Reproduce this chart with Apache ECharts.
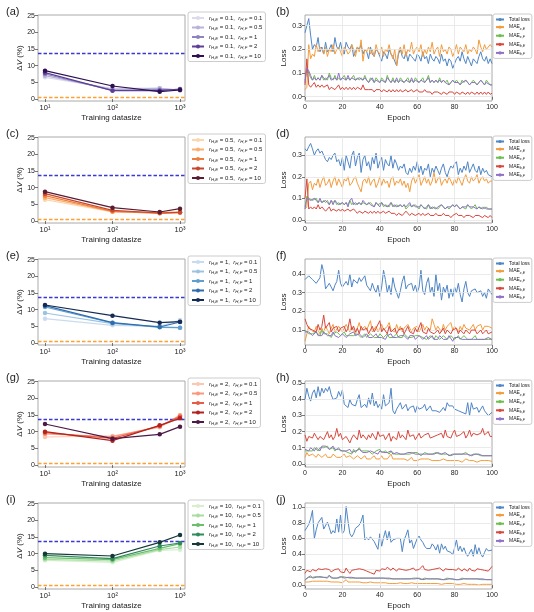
<!DOCTYPE html>
<html><head><meta charset="utf-8">
<script src="https://cdn.jsdelivr.net/npm/echarts@6/dist/echarts.min.js"></script>
<style>html,body{margin:0;padding:0;background:#fff}#c{width:534px;height:612px}</style>
</head><body><div id="c"></div>
<script>
// ---------- DATA ----------
const dataSizes = [10, 100, 500, 1000];
const rHF = ['0.1', '0.5', '1', '2', '10'];
const xTickValues = [10, 100, 1000];
const refHigh = 13.7;
const refLow = 0.6;
// ΔV(%) per r_H,F (rows: 0.1,0.5,1,2,10), columns: datasizes
const dvA = [[6.5,3.2,3.3,2.5],[7.0,2.9,3.2,2.7],[7.5,2.6,2.8,2.8],[7.9,2.5,2.5,3.0],[8.5,3.9,2.2,2.7]];
const dvC = [[6.4,2.7,2.6,2.8],[7.0,2.8,2.5,2.6],[7.6,2.9,2.3,2.5],[8.2,3.2,2.4,2.6],[8.8,4.0,2.7,3.7]];
const dvE = [[7.3,5.3,5.0,6.9],[9.0,5.8,4.9,4.6],[10.8,6.0,4.7,4.6],[11.2,6.1,4.8,6.3],[11.4,8.2,6.1,6.4]];
const dvG = [[8.4,8.7,11.3,14.5],[9.3,8.5,11.5,14.9],[9.7,8.0,11.7,14.5],[10.0,7.3,11.9,14.0],[12.3,7.9,9.2,11.5]];
const dvI = [[8.0,7.4,11.0,11.2],[8.3,7.8,11.2,12.0],[8.8,8.2,11.6,13.0],[9.5,8.5,12.3,13.2],[10.0,9.3,13.4,15.6]];

const lossNames = ['Total loss','MAE_xE','MAE_xF','MAE_bE','MAE_bF'];

const lossB_total=[0.27,0.30,0.33,0.26,0.20,0.22,0.21,0.25,0.19,0.21,0.18,0.23,0.19,0.20,0.22,0.19,0.25,0.21,0.20,0.23,0.19,0.18,0.23,0.21,0.20,0.22,0.17,0.19,0.21,0.20,0.22,0.18,0.20,0.19,0.16,0.21,0.18,0.17,0.20,0.19,0.17,0.15,0.19,0.18,0.16,0.20,0.18,0.17,0.15,0.13,0.18,0.20,0.17,0.16,0.19,0.15,0.18,0.17,0.16,0.15,0.18,0.17,0.15,0.19,0.16,0.17,0.14,0.18,0.16,0.15,0.17,0.16,0.14,0.18,0.15,0.16,0.13,0.16,0.15,0.12,0.14,0.16,0.17,0.15,0.19,0.16,0.14,0.17,0.15,0.13,0.16,0.15,0.14,0.17,0.19,0.16,0.15,0.17,0.14,0.16,0.14];
const lossB_xE=[0.03,0.04,0.22,0.16,0.18,0.17,0.22,0.19,0.21,0.20,0.18,0.21,0.17,0.20,0.19,0.22,0.18,0.20,0.21,0.19,0.17,0.21,0.20,0.18,0.19,0.22,0.20,0.17,0.21,0.19,0.24,0.15,0.20,0.19,0.21,0.18,0.20,0.17,0.22,0.19,0.18,0.21,0.17,0.20,0.19,0.22,0.18,0.16,0.20,0.13,0.19,0.21,0.18,0.22,0.17,0.20,0.19,0.23,0.18,0.20,0.21,0.19,0.22,0.17,0.20,0.18,0.21,0.19,0.23,0.18,0.20,0.21,0.17,0.22,0.19,0.20,0.18,0.21,0.20,0.17,0.19,0.22,0.18,0.21,0.20,0.19,0.22,0.18,0.20,0.19,0.21,0.20,0.18,0.24,0.21,0.19,0.22,0.20,0.21,0.22,0.21];
const lossB_xF=[0.07,0.12,0.10,0.08,0.07,0.09,0.07,0.08,0.07,0.09,0.07,0.08,0.07,0.10,0.08,0.07,0.09,0.07,0.08,0.07,0.08,0.09,0.07,0.08,0.07,0.08,0.09,0.07,0.08,0.07,0.08,0.07,0.09,0.07,0.06,0.08,0.07,0.06,0.08,0.07,0.06,0.08,0.07,0.06,0.09,0.07,0.06,0.08,0.06,0.07,0.06,0.08,0.07,0.06,0.07,0.08,0.06,0.07,0.06,0.08,0.07,0.06,0.07,0.08,0.06,0.07,0.09,0.06,0.07,0.06,0.07,0.06,0.08,0.06,0.07,0.06,0.07,0.05,0.06,0.07,0.06,0.07,0.06,0.05,0.07,0.06,0.07,0.06,0.05,0.06,0.07,0.06,0.05,0.06,0.07,0.06,0.05,0.07,0.06,0.05,0.05];
const lossB_bE=[0.05,0.16,0.05,0.04,0.05,0.06,0.04,0.05,0.04,0.05,0.04,0.04,0.05,0.03,0.04,0.04,0.03,0.04,0.05,0.03,0.04,0.03,0.04,0.03,0.04,0.03,0.04,0.03,0.04,0.04,0.03,0.05,0.03,0.03,0.03,0.03,0.03,0.02,0.03,0.03,0.03,0.02,0.03,0.03,0.02,0.03,0.02,0.03,0.02,0.03,0.02,0.03,0.02,0.02,0.03,0.02,0.02,0.03,0.02,0.02,0.03,0.02,0.02,0.02,0.03,0.02,0.02,0.02,0.01,0.02,0.02,0.02,0.02,0.01,0.02,0.02,0.01,0.02,0.02,0.02,0.01,0.02,0.02,0.01,0.02,0.02,0.01,0.02,0.01,0.02,0.02,0.01,0.02,0.01,0.02,0.01,0.02,0.01,0.02,0.01,0.015];
const lossB_bF=[0.06,0.12,0.11,0.09,0.07,0.08,0.07,0.08,0.07,0.09,0.08,0.07,0.08,0.09,0.07,0.07,0.08,0.07,0.10,0.07,0.08,0.08,0.07,0.09,0.07,0.08,0.08,0.07,0.07,0.08,0.08,0.07,0.08,0.07,0.06,0.07,0.08,0.06,0.07,0.07,0.06,0.07,0.07,0.06,0.08,0.07,0.06,0.07,0.06,0.08,0.06,0.07,0.07,0.06,0.07,0.07,0.06,0.08,0.06,0.07,0.07,0.06,0.07,0.07,0.06,0.07,0.08,0.06,0.07,0.06,0.07,0.06,0.07,0.06,0.07,0.06,0.06,0.05,0.06,0.07,0.06,0.06,0.06,0.05,0.06,0.06,0.07,0.06,0.05,0.06,0.06,0.06,0.05,0.06,0.07,0.07,0.05,0.06,0.06,0.05,0.05];

const lossD_total=[0.33,0.32,0.34,0.355,0.33,0.30,0.32,0.33,0.31,0.32,0.30,0.28,0.27,0.29,0.28,0.30,0.31,0.27,0.28,0.25,0.29,0.23,0.30,0.27,0.24,0.30,0.32,0.25,0.29,0.31,0.22,0.28,0.30,0.25,0.27,0.23,0.29,0.26,0.31,0.24,0.27,0.29,0.23,0.28,0.26,0.25,0.30,0.24,0.28,0.26,0.23,0.25,0.24,0.26,0.22,0.21,0.24,0.22,0.25,0.23,0.27,0.22,0.25,0.21,0.24,0.23,0.26,0.20,0.24,0.22,0.25,0.23,0.21,0.24,0.26,0.22,0.20,0.23,0.25,0.24,0.26,0.27,0.21,0.24,0.22,0.25,0.23,0.27,0.22,0.24,0.26,0.23,0.22,0.25,0.21,0.24,0.22,0.23,0.21,0.21,0.20];
const lossD_xE=[0.05,0.06,0.17,0.18,0.14,0.17,0.16,0.19,0.15,0.18,0.20,0.16,0.17,0.19,0.15,0.18,0.20,0.16,0.19,0.17,0.15,0.19,0.18,0.20,0.16,0.17,0.19,0.20,0.17,0.15,0.13,0.18,0.19,0.17,0.20,0.16,0.18,0.19,0.15,0.17,0.20,0.16,0.19,0.17,0.18,0.15,0.19,0.20,0.16,0.18,0.17,0.19,0.16,0.18,0.15,0.17,0.13,0.18,0.20,0.17,0.19,0.21,0.16,0.18,0.20,0.17,0.19,0.16,0.18,0.22,0.17,0.19,0.20,0.16,0.18,0.19,0.17,0.20,0.18,0.16,0.19,0.17,0.20,0.18,0.16,0.19,0.21,0.18,0.17,0.20,0.18,0.19,0.21,0.17,0.19,0.20,0.18,0.19,0.17,0.18,0.18];
const lossD_xF=[0.06,0.11,0.10,0.10,0.09,0.09,0.10,0.08,0.09,0.08,0.09,0.08,0.09,0.07,0.09,0.08,0.09,0.07,0.08,0.07,0.08,0.07,0.08,0.07,0.09,0.07,0.08,0.07,0.07,0.08,0.07,0.08,0.08,0.07,0.07,0.08,0.07,0.06,0.08,0.07,0.07,0.08,0.06,0.07,0.07,0.06,0.08,0.07,0.06,0.07,0.06,0.07,0.06,0.07,0.05,0.06,0.07,0.06,0.06,0.07,0.06,0.05,0.07,0.06,0.06,0.05,0.07,0.06,0.05,0.06,0.06,0.05,0.06,0.07,0.06,0.05,0.06,0.05,0.06,0.07,0.06,0.07,0.06,0.05,0.06,0.06,0.05,0.07,0.06,0.05,0.06,0.07,0.05,0.06,0.05,0.06,0.05,0.06,0.05,0.05,0.05];
const lossD_bE=[0.10,0.19,0.05,0.06,0.05,0.06,0.05,0.07,0.05,0.06,0.05,0.04,0.05,0.06,0.04,0.05,0.05,0.04,0.05,0.04,0.05,0.04,0.04,0.05,0.04,0.04,0.05,0.04,0.03,0.04,0.04,0.03,0.04,0.04,0.03,0.04,0.03,0.04,0.03,0.04,0.03,0.03,0.04,0.03,0.03,0.04,0.03,0.03,0.03,0.02,0.03,0.03,0.02,0.03,0.04,0.03,0.02,0.03,0.03,0.02,0.02,0.03,0.02,0.03,0.02,0.02,0.03,0.02,0.02,0.02,0.03,0.02,0.02,0.02,0.03,0.02,0.02,0.02,0.01,0.02,0.02,0.03,0.02,0.02,0.02,0.01,0.02,0.02,0.02,0.02,0.01,0.02,0.02,0.02,0.02,0.01,0.02,0.02,0.01,0.02,0.01];
const lossD_bF=[0.05,0.10,0.10,0.09,0.09,0.10,0.09,0.08,0.10,0.08,0.08,0.09,0.08,0.07,0.09,0.07,0.09,0.08,0.07,0.07,0.08,0.07,0.08,0.06,0.09,0.10,0.07,0.08,0.07,0.08,0.07,0.09,0.08,0.07,0.08,0.07,0.07,0.06,0.08,0.07,0.06,0.08,0.07,0.07,0.06,0.07,0.08,0.06,0.07,0.06,0.06,0.07,0.06,0.07,0.06,0.06,0.08,0.06,0.07,0.06,0.06,0.06,0.07,0.06,0.05,0.06,0.07,0.05,0.06,0.06,0.05,0.06,0.06,0.07,0.06,0.05,0.06,0.06,0.06,0.07,0.06,0.07,0.06,0.05,0.06,0.06,0.06,0.07,0.06,0.06,0.06,0.06,0.05,0.06,0.06,0.05,0.06,0.05,0.05,0.05,0.05];

const lossF_total=[0.37,0.38,0.39,0.40,0.37,0.36,0.35,0.36,0.38,0.45,0.41,0.32,0.33,0.35,0.33,0.31,0.34,0.36,0.42,0.35,0.33,0.32,0.36,0.34,0.40,0.33,0.37,0.36,0.35,0.38,0.36,0.35,0.39,0.34,0.33,0.31,0.35,0.32,0.30,0.34,0.28,0.33,0.42,0.37,0.30,0.34,0.29,0.38,0.33,0.30,0.27,0.31,0.36,0.39,0.32,0.34,0.33,0.35,0.31,0.34,0.30,0.33,0.42,0.31,0.29,0.35,0.38,0.30,0.33,0.28,0.40,0.31,0.35,0.26,0.33,0.30,0.34,0.27,0.32,0.28,0.33,0.30,0.35,0.29,0.25,0.32,0.36,0.30,0.28,0.31,0.30,0.32,0.30,0.29,0.31,0.28,0.30,0.27,0.32,0.31,0.29];
const lossF_xE=[0.04,0.08,0.12,0.10,0.11,0.09,0.12,0.10,0.08,0.11,0.09,0.12,0.10,0.08,0.11,0.13,0.09,0.10,0.12,0.11,0.09,0.10,0.13,0.11,0.09,0.12,0.10,0.08,0.11,0.14,0.10,0.09,0.12,0.10,0.11,0.15,0.09,0.10,0.12,0.09,0.11,0.13,0.10,0.09,0.12,0.14,0.10,0.11,0.09,0.13,0.10,0.12,0.09,0.11,0.10,0.13,0.12,0.09,0.11,0.10,0.12,0.09,0.11,0.13,0.10,0.12,0.11,0.10,0.16,0.13,0.10,0.12,0.11,0.09,0.13,0.10,0.12,0.11,0.14,0.10,0.12,0.11,0.09,0.12,0.10,0.13,0.11,0.12,0.10,0.11,0.13,0.10,0.12,0.11,0.13,0.10,0.12,0.11,0.12,0.11,0.11];
const lossF_xF=[0.10,0.09,0.08,0.09,0.08,0.07,0.09,0.08,0.07,0.10,0.08,0.07,0.08,0.07,0.06,0.08,0.07,0.09,0.08,0.07,0.08,0.09,0.07,0.08,0.07,0.08,0.07,0.06,0.08,0.07,0.06,0.07,0.08,0.06,0.07,0.08,0.07,0.06,0.07,0.06,0.08,0.07,0.06,0.07,0.08,0.06,0.07,0.06,0.07,0.08,0.06,0.07,0.06,0.08,0.07,0.06,0.07,0.06,0.05,0.07,0.06,0.07,0.08,0.06,0.07,0.05,0.06,0.07,0.06,0.05,0.07,0.06,0.05,0.06,0.07,0.06,0.05,0.06,0.07,0.06,0.05,0.06,0.07,0.05,0.06,0.07,0.06,0.05,0.06,0.05,0.06,0.07,0.05,0.06,0.05,0.06,0.05,0.06,0.05,0.05,0.05];
const lossF_bE=[0.16,0.13,0.11,0.12,0.10,0.11,0.09,0.13,0.10,0.12,0.18,0.11,0.10,0.14,0.09,0.11,0.10,0.12,0.09,0.11,0.10,0.12,0.09,0.11,0.16,0.10,0.12,0.09,0.11,0.08,0.12,0.10,0.09,0.11,0.08,0.10,0.12,0.09,0.11,0.10,0.15,0.09,0.11,0.10,0.08,0.12,0.09,0.10,0.11,0.08,0.10,0.09,0.11,0.08,0.10,0.12,0.09,0.10,0.08,0.11,0.09,0.10,0.14,0.09,0.10,0.08,0.11,0.09,0.10,0.08,0.09,0.10,0.08,0.09,0.11,0.08,0.10,0.09,0.08,0.10,0.09,0.11,0.08,0.10,0.09,0.08,0.10,0.09,0.08,0.10,0.09,0.10,0.08,0.09,0.10,0.08,0.09,0.10,0.08,0.09,0.09];
const lossF_bF=[0.09,0.10,0.09,0.08,0.07,0.08,0.09,0.07,0.08,0.07,0.09,0.08,0.07,0.08,0.07,0.09,0.07,0.08,0.06,0.07,0.08,0.07,0.06,0.07,0.08,0.07,0.09,0.07,0.06,0.08,0.07,0.06,0.07,0.08,0.06,0.07,0.06,0.07,0.08,0.06,0.07,0.06,0.07,0.05,0.07,0.06,0.08,0.06,0.07,0.06,0.05,0.07,0.06,0.07,0.06,0.05,0.07,0.06,0.07,0.05,0.06,0.07,0.06,0.05,0.06,0.07,0.05,0.06,0.07,0.05,0.06,0.05,0.07,0.06,0.05,0.06,0.05,0.07,0.06,0.04,0.06,0.05,0.06,0.07,0.05,0.06,0.05,0.06,0.05,0.06,0.05,0.06,0.05,0.06,0.05,0.06,0.05,0.04,0.06,0.05,0.05];

const lossH_total=[0.40,0.47,0.42,0.39,0.44,0.46,0.41,0.48,0.42,0.47,0.44,0.47,0.45,0.48,0.43,0.40,0.39,0.41,0.45,0.42,0.46,0.37,0.38,0.35,0.40,0.37,0.38,0.36,0.40,0.43,0.35,0.36,0.37,0.35,0.41,0.37,0.44,0.36,0.39,0.35,0.37,0.34,0.43,0.36,0.35,0.38,0.47,0.33,0.31,0.34,0.33,0.38,0.34,0.35,0.37,0.33,0.35,0.34,0.36,0.32,0.36,0.34,0.33,0.35,0.37,0.33,0.34,0.36,0.33,0.32,0.33,0.34,0.32,0.33,0.35,0.33,0.38,0.36,0.35,0.36,0.34,0.35,0.33,0.34,0.32,0.33,0.31,0.38,0.30,0.38,0.34,0.33,0.35,0.32,0.34,0.36,0.33,0.32,0.30,0.30,0.32];
const lossH_xE=[0.04,0.07,0.05,0.04,0.06,0.05,0.04,0.06,0.05,0.04,0.05,0.06,0.04,0.05,0.04,0.06,0.05,0.04,0.05,0.04,0.05,0.06,0.04,0.03,0.05,0.04,0.03,0.04,0.05,0.04,0.03,0.04,0.05,0.03,0.04,0.03,0.04,0.05,0.03,0.04,0.03,0.05,0.03,0.04,0.03,0.04,0.06,0.03,0.02,0.03,0.04,0.03,0.02,0.03,0.03,0.02,0.03,0.04,0.02,0.03,0.02,0.03,0.03,0.02,0.03,0.02,0.03,0.02,0.02,0.03,0.02,0.03,0.02,0.02,0.03,0.02,0.02,0.03,0.02,0.02,0.02,0.03,0.02,0.02,0.01,0.02,0.03,0.02,0.02,0.01,0.02,0.02,0.01,0.02,0.02,0.01,0.02,0.01,0.02,0.01,0.015];
const lossH_xF=[0.08,0.07,0.08,0.09,0.08,0.10,0.09,0.08,0.10,0.09,0.10,0.09,0.11,0.09,0.08,0.10,0.08,0.07,0.10,0.08,0.09,0.08,0.09,0.07,0.08,0.06,0.09,0.07,0.08,0.10,0.08,0.07,0.08,0.07,0.08,0.07,0.06,0.07,0.08,0.07,0.09,0.07,0.06,0.08,0.07,0.06,0.08,0.07,0.06,0.07,0.06,0.07,0.06,0.07,0.06,0.07,0.06,0.06,0.07,0.06,0.07,0.06,0.05,0.06,0.07,0.06,0.06,0.07,0.06,0.06,0.07,0.06,0.06,0.05,0.06,0.07,0.06,0.06,0.05,0.06,0.06,0.07,0.06,0.05,0.06,0.06,0.07,0.06,0.05,0.06,0.06,0.05,0.06,0.06,0.05,0.06,0.05,0.06,0.05,0.05,0.05];
const lossH_bE=[0.18,0.14,0.17,0.18,0.16,0.19,0.17,0.15,0.17,0.16,0.15,0.16,0.20,0.16,0.18,0.15,0.17,0.22,0.17,0.19,0.15,0.14,0.17,0.15,0.13,0.16,0.18,0.17,0.15,0.21,0.16,0.18,0.17,0.15,0.18,0.16,0.19,0.17,0.15,0.20,0.17,0.16,0.18,0.15,0.17,0.19,0.14,0.17,0.16,0.15,0.20,0.16,0.18,0.17,0.15,0.21,0.17,0.16,0.18,0.15,0.17,0.19,0.16,0.15,0.18,0.17,0.19,0.16,0.15,0.17,0.16,0.18,0.17,0.19,0.16,0.21,0.17,0.18,0.16,0.19,0.21,0.17,0.16,0.18,0.17,0.20,0.16,0.18,0.21,0.17,0.19,0.20,0.18,0.17,0.19,0.22,0.18,0.17,0.20,0.17,0.17];
const lossH_bF=[0.09,0.08,0.08,0.10,0.09,0.08,0.10,0.09,0.08,0.11,0.10,0.11,0.10,0.09,0.08,0.11,0.09,0.08,0.09,0.08,0.08,0.09,0.08,0.07,0.09,0.07,0.08,0.08,0.07,0.09,0.08,0.07,0.08,0.07,0.07,0.08,0.07,0.07,0.08,0.06,0.08,0.07,0.07,0.08,0.07,0.06,0.08,0.06,0.06,0.07,0.06,0.06,0.07,0.06,0.06,0.07,0.06,0.07,0.06,0.06,0.07,0.06,0.06,0.06,0.07,0.06,0.05,0.06,0.06,0.06,0.06,0.07,0.06,0.06,0.06,0.07,0.06,0.05,0.06,0.06,0.06,0.06,0.07,0.06,0.05,0.06,0.07,0.06,0.06,0.05,0.06,0.06,0.05,0.06,0.06,0.05,0.06,0.05,0.05,0.05,0.05];

const lossJ_total=[0.70,0.74,0.78,0.85,0.96,0.60,0.71,0.80,0.79,0.87,0.72,0.70,0.81,0.74,0.66,0.70,0.67,0.85,0.68,0.90,0.66,0.70,1.01,0.82,0.66,0.62,0.66,0.73,0.73,0.77,0.82,0.90,0.58,0.61,0.58,0.62,0.59,0.56,0.55,0.46,0.66,0.50,0.61,0.70,0.58,0.69,0.55,0.58,0.60,0.60,0.60,0.60,0.43,0.58,0.64,0.71,0.54,0.58,0.47,0.49,0.60,0.63,0.58,0.55,0.50,0.47,0.46,0.47,0.53,0.50,0.45,0.52,0.41,0.53,0.46,0.50,0.44,0.44,0.42,0.39,0.48,0.58,0.44,0.50,0.43,0.48,0.41,0.37,0.38,0.46,0.37,0.52,0.40,0.48,0.40,0.36,0.42,0.47,0.44,0.46,0.45];
const lossJ_xE=[0.04,0.05,0.04,0.06,0.05,0.04,0.05,0.04,0.05,0.04,0.05,0.04,0.05,0.04,0.04,0.05,0.04,0.03,0.04,0.04,0.03,0.04,0.07,0.04,0.03,0.04,0.03,0.04,0.03,0.04,0.04,0.03,0.04,0.03,0.03,0.04,0.03,0.03,0.02,0.03,0.03,0.03,0.02,0.03,0.03,0.02,0.03,0.02,0.03,0.02,0.02,0.03,0.02,0.02,0.03,0.02,0.02,0.03,0.02,0.02,0.02,0.02,0.03,0.02,0.02,0.02,0.01,0.02,0.02,0.02,0.01,0.02,0.02,0.01,0.02,0.02,0.01,0.02,0.01,0.02,0.02,0.01,0.02,0.01,0.01,0.02,0.01,0.01,0.02,0.01,0.01,0.01,0.02,0.00,0.01,0.01,0.02,0.01,0.01,0.01,0.01];
const lossJ_xF=[0.07,0.09,0.10,0.12,0.10,0.09,0.11,0.09,0.10,0.09,0.10,0.09,0.10,0.13,0.09,0.10,0.09,0.10,0.09,0.10,0.11,0.09,0.10,0.11,0.09,0.10,0.09,0.10,0.09,0.10,0.09,0.10,0.09,0.08,0.09,0.10,0.09,0.08,0.09,0.08,0.09,0.08,0.09,0.10,0.08,0.09,0.08,0.09,0.08,0.09,0.08,0.09,0.08,0.09,0.08,0.09,0.08,0.07,0.09,0.08,0.09,0.08,0.07,0.08,0.09,0.08,0.08,0.07,0.08,0.09,0.08,0.07,0.08,0.08,0.07,0.08,0.09,0.07,0.08,0.08,0.07,0.08,0.07,0.08,0.09,0.07,0.08,0.07,0.08,0.07,0.08,0.07,0.08,0.09,0.07,0.08,0.07,0.08,0.07,0.07,0.07];
const lossJ_bE=[0.15,0.19,0.18,0.17,0.20,0.19,0.18,0.21,0.19,0.20,0.18,0.21,0.19,0.20,0.17,0.19,0.20,0.18,0.21,0.17,0.19,0.16,0.22,0.18,0.15,0.19,0.17,0.20,0.18,0.21,0.23,0.20,0.19,0.18,0.17,0.16,0.18,0.14,0.19,0.20,0.18,0.21,0.19,0.20,0.23,0.21,0.19,0.22,0.20,0.18,0.21,0.19,0.20,0.22,0.19,0.21,0.20,0.18,0.22,0.19,0.21,0.20,0.19,0.25,0.20,0.22,0.19,0.21,0.20,0.18,0.21,0.19,0.22,0.20,0.18,0.21,0.19,0.20,0.18,0.20,0.21,0.19,0.22,0.20,0.18,0.21,0.20,0.18,0.22,0.19,0.20,0.18,0.21,0.19,0.20,0.22,0.19,0.21,0.18,0.20,0.24];
const lossJ_bF=[0.06,0.09,0.10,0.12,0.09,0.10,0.10,0.09,0.11,0.09,0.10,0.10,0.09,0.12,0.10,0.09,0.10,0.09,0.10,0.11,0.10,0.09,0.11,0.10,0.09,0.10,0.10,0.09,0.10,0.09,0.10,0.09,0.08,0.09,0.10,0.09,0.08,0.09,0.08,0.09,0.08,0.09,0.10,0.09,0.08,0.09,0.08,0.08,0.09,0.08,0.09,0.08,0.09,0.08,0.09,0.08,0.07,0.08,0.09,0.08,0.08,0.09,0.08,0.07,0.08,0.08,0.07,0.08,0.09,0.08,0.07,0.08,0.08,0.07,0.08,0.07,0.08,0.08,0.07,0.08,0.08,0.07,0.08,0.07,0.08,0.08,0.07,0.08,0.07,0.08,0.07,0.08,0.07,0.08,0.07,0.08,0.07,0.07,0.08,0.07,0.07];

const yTicksB=[0,0.1,0.2,0.3], yTicksD=[0,0.1,0.2,0.3], yTicksF=[0.1,0.2,0.3,0.4], yTicksH=[0,0.1,0.2,0.3,0.4,0.5], yTicksJ=[0,0.2,0.4,0.6,0.8,1.0];
const xTicksEpoch=[0,20,40,60,80,100];
const dvTicks=[0,5,10,15,20,25];

// ---------- STYLE / LAYOUT ----------
const FONT='Liberation Sans';
const LEFT=[
  {letter:'(a)', rHE:'0.1', dv:dvA, colors:['#dcdbec','#b6b4d8','#8b84c0','#5d3f98','#2e1052']},
  {letter:'(c)', rHE:'0.5', dv:dvC, colors:['#fdd6b0','#fbae6e','#ef7e3c','#c8462b','#5a1c30']},
  {letter:'(e)', rHE:'1', dv:dvE, colors:['#c9dcef','#9cc4e2','#5f9fd0','#2f6cae','#152a55']},
  {letter:'(g)', rHE:'2', dv:dvG, colors:['#fcc7b0','#f9997c','#e65c45','#b3221f','#4c1a46']},
  {letter:'(i)', rHE:'10', dv:dvI, colors:['#d7efd0','#a9dca1','#6abf6a','#2f8a5c','#163838']}
];
const RIGHT=[
  {letter:'(b)', data:[lossB_total,lossB_xE,lossB_xF,lossB_bE,lossB_bF], y:[-0.018,0.345], ticks:yTicksB},
  {letter:'(d)', data:[lossD_total,lossD_xE,lossD_xF,lossD_bE,lossD_bF], y:[-0.015,0.385], ticks:yTicksD},
  {letter:'(f)', data:[lossF_total,lossF_xE,lossF_xF,lossF_bE,lossF_bF], y:[0.02,0.48], ticks:yTicksF},
  {letter:'(h)', data:[lossH_total,lossH_xE,lossH_xF,lossH_bE,lossH_bF], y:[-0.02,0.515], ticks:yTicksH},
  {letter:'(j)', data:[lossJ_total,lossJ_xE,lossJ_xF,lossJ_bE,lossJ_bF], y:[-0.05,1.055], ticks:yTicksJ}
];
const lossColors=['#4f86c6','#f39c3c','#6cbf4f','#d9473d','#9070c8'];
const ROW0=15, PITCH=122, GH=86;
const TXT='#222';
const sup={'1':'¹','2':'²','3':'³'};

const grids=[],xAxes=[],yAxes=[],series=[],legends=[],titles=[];

function tickCommon(){return {show:true,length:3,lineStyle:{color:'#555',width:0.8}};}
function refSeries(gi,val,color,name){
  return {type:'line',name:name,xAxisIndex:gi,yAxisIndex:gi,data:[],silent:true,z:2,
    itemStyle:{color:color},lineStyle:{color:color},
    markLine:{silent:true,symbol:'none',animation:false,label:{show:false},
      lineStyle:{color:color,type:[3.5,2],width:1.3,opacity:1},
      emphasis:{disabled:true},
      data:[{yAxis:val,lineStyle:{color:color}}]}};
}

LEFT.forEach((p,i)=>{
  const top=ROW0+PITCH*i, gi=grids.length;
  grids.push({left:38,top:top,width:147,height:GH,show:true,borderColor:'#aaa',borderWidth:1});
  xAxes.push({gridIndex:gi,type:'log',logBase:10,min:7.88,max:1186,
    name:'Training datasize',nameLocation:'middle',nameGap:13,
    nameTextStyle:{fontFamily:FONT,fontSize:8,color:TXT},
    axisLine:{show:false},splitLine:{show:false},
    axisTick:Object.assign(tickCommon(),{customValues:xTickValues}),
    axisLabel:{customValues:xTickValues,fontFamily:FONT,fontSize:7.5,color:TXT,margin:3,
      formatter:v=>'10'+(sup[String(Math.round(Math.log10(v)))]||'')}});
  yAxes.push({gridIndex:gi,type:'value',min:-0.6,max:25.2,
    name:'{d|Δ}{v|V}{d| (%)}',nameLocation:'middle',nameGap:14,nameRotate:90,
    nameTextStyle:{fontFamily:FONT,fontSize:8,color:TXT,rich:{d:{fontFamily:FONT,fontSize:8,color:TXT},v:{fontFamily:FONT,fontSize:8,fontStyle:'italic',color:TXT}}},
    axisLine:{show:false},splitLine:{show:false},
    axisTick:Object.assign(tickCommon(),{customValues:dvTicks}),
    axisLabel:{customValues:dvTicks,fontFamily:FONT,fontSize:7,color:TXT,margin:3}});
  series.push(refSeries(gi,refHigh,'#3a3ad0','refH'+i));
  series.push(refSeries(gi,refLow,'#ffa030','refL'+i));
  const names=[];
  p.dv.forEach((vals,k)=>{
    const nm=p.letter+'|'+rHF[k]; names.push(nm);
    series.push({type:'line',name:nm,xAxisIndex:gi,yAxisIndex:gi,
      data:dataSizes.map((d,j)=>[d,vals[j]]),
      symbol:'circle',symbolSize:4.5,showSymbol:true,
      lineStyle:{width:1.2,color:p.colors[k]},itemStyle:{color:p.colors[k]},z:3+k,silent:true});
  });
  legends.push({left:188,top:top-3,orient:'vertical',data:names,selectedMode:false,
    itemWidth:12,itemHeight:5,itemGap:3,padding:[3,3,2,3],
    borderColor:'#ccc',borderWidth:1,borderRadius:2,backgroundColor:'#fff',
    textStyle:{fontFamily:FONT,fontSize:6,color:TXT,
      rich:{i:{fontFamily:FONT,fontSize:6,fontStyle:'italic',color:TXT},
            s:{fontFamily:FONT,fontSize:4.3,fontStyle:'italic',color:TXT,padding:[3,0,0,0]},
            t:{fontFamily:FONT,fontSize:6,color:TXT}}},
    formatter:n=>{const r=n.split('|')[1];return '{i|r}{s|H,E}{t| = '+p.rHE+',  }{i|r}{s|H,F}{t| = '+r+'}';}});
  titles.push({text:p.letter,left:1,top:top-14,textStyle:{fontFamily:FONT,fontSize:11,fontWeight:'normal',color:TXT}});
});

const lossLabel={'Total loss':'{t|Total loss}','MAE_xE':'{t|MAE}{s|x,E}','MAE_xF':'{t|MAE}{s|x,F}','MAE_bE':'{t|MAE}{s|b,E}','MAE_bF':'{t|MAE}{s|b,F}'};

RIGHT.forEach((p,i)=>{
  const top=ROW0+PITCH*i, gi=grids.length;
  grids.push({left:305,top:top,width:187,height:GH,show:true,borderColor:'#aaa',borderWidth:1});
  xAxes.push({gridIndex:gi,type:'value',min:0,max:100,
    name:'Epoch',nameLocation:'middle',nameGap:13,
    nameTextStyle:{fontFamily:FONT,fontSize:8,color:TXT},
    axisLine:{show:false},splitLine:{show:false},
    axisTick:Object.assign(tickCommon(),{customValues:xTicksEpoch}),
    axisLabel:{customValues:xTicksEpoch,fontFamily:FONT,fontSize:7,color:TXT,margin:3}});
  yAxes.push({gridIndex:gi,type:'value',min:p.y[0],max:p.y[1],
    name:'Loss',nameLocation:'middle',nameGap:17,nameRotate:90,
    nameTextStyle:{fontFamily:FONT,fontSize:8,color:TXT},
    axisLine:{show:false},splitLine:{show:false},
    axisTick:Object.assign(tickCommon(),{customValues:p.ticks}),
    axisLabel:{customValues:p.ticks,fontFamily:FONT,fontSize:7,color:TXT,margin:3,formatter:v=>v.toFixed(1)}});
  series.push({type:'line',name:'grid'+i,xAxisIndex:gi,yAxisIndex:gi,data:[],silent:true,z:1,
    markLine:{silent:true,symbol:'none',animation:false,label:{show:false},
      lineStyle:{color:'#e4e4e4',type:'solid',width:0.8,opacity:1},emphasis:{disabled:true},
      data:p.ticks.map(v=>({yAxis:v})).concat(xTicksEpoch.slice(1,-1).map(v=>({xAxis:v})))}});
  const names=[];
  p.data.forEach((arr,k)=>{
    const nm=p.letter+'|'+lossNames[k]; names.push(nm);
    series.push({type:'line',name:nm,xAxisIndex:gi,yAxisIndex:gi,
      data:arr.map((v,e)=>[e,v]),symbol:'none',
      lineStyle:{width:1,color:lossColors[k]},itemStyle:{color:lossColors[k]},z:3+k,silent:true});
  });
  legends.push({left:493,top:top-1,orient:'vertical',data:names,selectedMode:false,
    itemWidth:8,itemHeight:4,itemGap:2.6,padding:[3,2,2,2],
    borderColor:'#ccc',borderWidth:1,borderRadius:2,backgroundColor:'#fff',
    textStyle:{fontFamily:FONT,fontSize:5,color:TXT,
      rich:{t:{fontFamily:FONT,fontSize:5,color:TXT},
            s:{fontFamily:FONT,fontSize:3.6,fontStyle:'italic',color:TXT,padding:[3,0,0,0]}}},
    formatter:n=>lossLabel[n.split('|')[1]]});
  titles.push({text:p.letter,left:271,top:top-14,textStyle:{fontFamily:FONT,fontSize:11,fontWeight:'normal',color:TXT}});
});

const chart=echarts.init(document.getElementById('c'),null,{renderer:'canvas'});
chart.setOption({animation:false,backgroundColor:'#fff',title:titles,grid:grids,xAxis:xAxes,yAxis:yAxes,legend:legends,series:series});
</script></body></html>
